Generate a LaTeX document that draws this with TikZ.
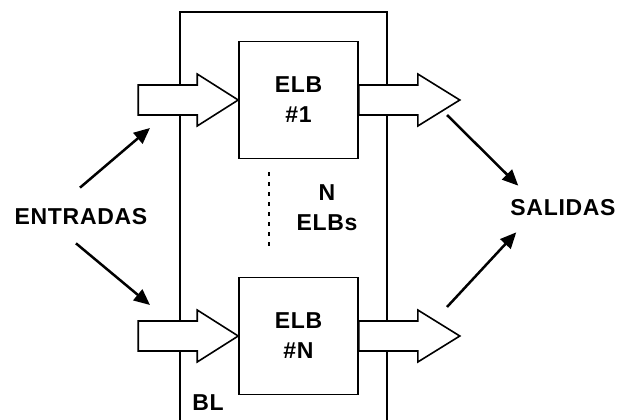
\documentclass[tikz,border=0pt]{standalone}
\usepackage{fontspec}
\setmainfont{Liberation Sans}[LetterSpace=3]
\usetikzlibrary{arrows.meta}

\tikzset{
  lbl/.style={font=\fontsize{23}{30}\selectfont\bfseries, align=center, inner sep=0pt},
  elbbox/.style={draw, line width=1.6pt, fill=white, minimum width=119pt, minimum height=117pt, lbl},
  blockarrow/.style={draw, line width=1.6pt, fill=white, line join=miter},
  thinarrow/.style={->, line width=2.5pt},
  dotline/.style={line width=2.4pt, dash pattern=on 4pt off 6pt}
}

\begin{document}
\begin{tikzpicture}[x=1pt, y=-1pt, >={Triangle[length=16pt, width=14pt]}]
  \useasboundingbox (0,0) rectangle (618,420);

  % Block BL (open at the bottom)
  \draw[line width=1.5pt] (180,420) -- (180,12) -- (387,12) -- (387,420);
  \node[lbl] (bl) at (208,403) {BL};

  % The ELBs
  \node[elbbox] (elb1) at (298.5,100) {ELB\\\#1};
  \node[elbbox] (elbn) at (298.5,336) {ELB\\\#N};

  % dots between them
  \draw[dotline] (269,172) -- (269,250);
  \node[lbl] (count) at (327,208) {N\\ELBs};

  % input arrows
  \foreach \b in {elb1,elbn} {
    \draw[blockarrow] (\b.west) -- ++(-41,-26) -- ++(0,11) -- ++(-59,0)
      -- ++(0,30) -- ++(59,0) -- ++(0,11) -- cycle;
  }
  % output arrows
  \foreach \b in {elb1,elbn} {
    \draw[blockarrow] (\b.east) ++(0,-15) -- ++(59,0) -- ++(0,-11) -- ++(42,26)
      -- ++(-42,26) -- ++(0,-11) -- ++(-59,0) -- cycle;
  }

  % Inputs
  \node[lbl] (entradas) at (81,217) {ENTRADAS};
  \coordinate (in1) at (150,128);
  \coordinate (inn) at (150,305);
  \draw[thinarrow] ([shift={(-1,-21)}]entradas.north) -- (in1);
  \draw[thinarrow] ([shift={(-5,18)}]entradas.south) -- (inn);

  % Outputs
  \node[lbl] (salidas) at (563,208) {SALIDAS};
  \coordinate (out1) at (447,115);
  \coordinate (outn) at (447,307);
  \draw[thinarrow] (out1) -- ([shift={(8,-14)}]salidas.north west);
  \draw[thinarrow] (outn) -- ([shift={(6,16)}]salidas.south west);
\end{tikzpicture}
\end{document}
